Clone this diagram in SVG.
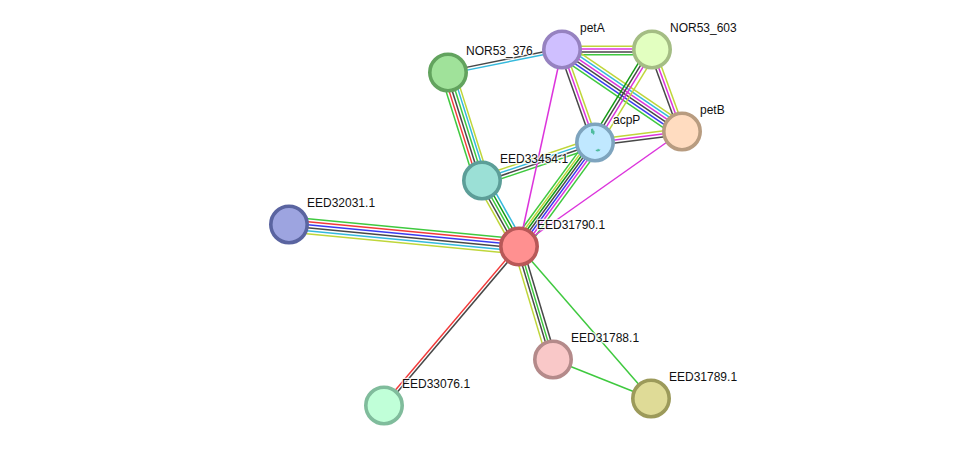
<svg xmlns="http://www.w3.org/2000/svg" width="975" height="451" viewBox="0 0 975 451">
<style>
text{font-family:"Liberation Sans",Arial,sans-serif;font-size:12px;fill:#111;stroke:#fff;stroke-width:2.5px;stroke-opacity:.75;paint-order:stroke;stroke-linejoin:round}
#connectors line{stroke-width:1.5;fill:none}
.g{stroke:#3fc93f}.d{stroke:#159a15}.r{stroke:#f23a3a}.b{stroke:#3a3af0}.k{stroke:#484848}.c{stroke:#35b9dc}.y{stroke:#bfd63a}.m{stroke:#dc34dc}
.n{stroke-width:3.6}
.blob{fill:#4fbc9e;stroke:none}
</style>
<rect width="975" height="451" fill="#fff"/>
<g id="connectors" transform="translate(0,.5)">
<!-- each bundle runs along local x, strands spread along local y -->
<g transform="translate(289,224) rotate(5.46)">
<line class="g" x2="231" y1="-7.5" y2="-7.5"/><line class="r" x2="231" y1="-4.5" y2="-4.5"/><line class="b" x2="231" y1="-1.500" y2="-1.500"/><line class="k" x2="231" y1="1.500" y2="1.500"/><line class="c" x2="231" y1="4.5" y2="4.5"/><line class="y" x2="231" y1="7.5" y2="7.5"/>
</g>
<g transform="translate(448,72) rotate(-11.4)">
<line class="k" x2="116" y1="-1.4" y2="-1.4"/><line class="c" x2="116" y1="1.4" y2="1.4"/>
</g>
<g transform="translate(448,72) rotate(72.5)">
<line class="g" x2="113" y1="7.5" y2="7.5"/><line class="r" x2="113" y1="4.5" y2="4.5"/><line class="k" x2="113" y1="1.500" y2="1.500"/><line class="g" x2="113" y1="-1.500" y2="-1.500"/><line class="c" x2="113" y1="-4.5" y2="-4.5"/><line class="y" x2="113" y1="-7" y2="-7"/>
</g>
<g transform="translate(482,180) rotate(60.7)">
<line class="y" x2="76" y1="6" y2="6"/><line class="k" x2="76" y1="3" y2="3"/><line class="g" x2="76" y1="0" y2="0"/><line class="d" x2="76" y1="-3" y2="-3"/><line class="c" x2="76" y1="-6" y2="-6"/>
</g>
<g transform="translate(482,180) rotate(-18.6)">
<line class="y" x2="119" y1="-4.5" y2="-4.5"/><line class="c" x2="119" y1="-1.500" y2="-1.500"/><line class="k" x2="119" y1="1.500" y2="1.500"/><line class="g" x2="119" y1="4.5" y2="4.5"/>
</g>
<g transform="translate(519,246) rotate(-53.8)">
<line class="g" x2="129" y1="-8" y2="-8"/><line class="y" x2="129" y1="-5.500" y2="-5.500"/><line class="d" x2="129" y1="-3.300" y2="-3.300"/><line class="k" x2="129" y1="-.8" y2="-.8"/><line class="b" x2="129" y1="1.600" y2="1.600"/><line class="m" x2="129" y1="4.2" y2="4.2"/><line class="g" x2="129" y1="7.2" y2="7.2"/>
</g>
<g transform="translate(562,49) rotate(70.5)">
<line class="k" x2="99" y1="3" y2="3"/><line class="m" x2="99" y1="0" y2="0"/><line class="y" x2="99" y1="-3" y2="-3"/>
</g>
<g transform="translate(562,50)">
<line class="y" x2="90" y1="-4.2" y2="-4.2"/><line class="m" x2="90" y1="-1.4" y2="-1.4"/><line class="k" x2="90" y1="1.4" y2="1.4"/><line class="g" x2="90" y1="4.2" y2="4.2"/>
</g>
<g transform="translate(562,49) rotate(34.3)">
<line class="y" x2="145" y1="-7.5" y2="-7.5"/><line class="c" x2="145" y1="-4.5" y2="-4.5"/><line class="m" x2="145" y1="-1.500" y2="-1.500"/><line class="k" x2="145" y1="1.500" y2="1.500"/><line class="b" x2="145" y1="4.5" y2="4.5"/><line class="g" x2="145" y1="7.5" y2="7.5"/>
</g>
<g transform="translate(595,142) rotate(-58.5)">
<line class="d" x2="109" y1="-4.5" y2="-4.5"/><line class="k" x2="109" y1="-1.500" y2="-1.500"/><line class="m" x2="109" y1="1.500" y2="1.500"/><line class="y" x2="109" y1="5.5" y2="5.5"/>
</g>
<g transform="translate(652,49) rotate(69.9)">
<line class="k" x2="87" y1="3" y2="3"/><line class="m" x2="87" y1="0" y2="0"/><line class="y" x2="87" y1="-3" y2="-3"/>
</g>
<g transform="translate(595,142) rotate(-7.2)">
<line class="y" x2="88" y1="-3" y2="-3"/><line class="m" x2="88" y1="0" y2="0"/><line class="k" x2="88" y1="3" y2="3"/>
</g>
<g transform="translate(519,246) rotate(73.3)">
<line class="y" x2="118" y1="5.6" y2="5.6"/><line class="k" x2="118" y1="2.2" y2="2.2"/><line class="g" x2="118" y1="-.4" y2="-.4"/><line class="k" x2="118" y1="-3.4" y2="-3.4"/>
</g>
<g transform="translate(519,246) rotate(130.3)">
<line class="r" x2="208" y1="1.4" y2="1.4"/><line class="k" x2="208" y1="-1.4" y2="-1.4"/>
</g>
<line class="m" x1="519" y1="246" x2="562" y2="49"/>
<line class="m" x1="519" y1="246" x2="682" y2="131"/>
<line class="g" x1="519" y1="246" x2="651" y2="398"/>
<line class="g" x1="553" y1="359" x2="651" y2="398"/>
</g>
<g id="EED32031.1"><circle class="n" cx="289" cy="224.500" r="18.2" fill="#9da4e0" stroke="#5a64a0"/><text x="307" y="207">EED32031.1</text></g>
<g id="NOR53_376"><circle class="n" cx="448" cy="72.500" r="18.2" fill="#a0e29a" stroke="#62a35e"/><text x="466" y="55">NOR53_376</text></g>
<g id="petA"><circle class="n" cx="562" cy="49.500" r="18.2" fill="#cfbfff" stroke="#9682c0"/><text x="580" y="32">petA</text></g>
<g id="NOR53_603"><circle class="n" cx="652" cy="49.500" r="18.2" fill="#e2ffc0" stroke="#a4bd84"/><text x="670" y="32">NOR53_603</text></g>
<g id="petB"><circle class="n" cx="682" cy="131.500" r="18.2" fill="#ffdcc0" stroke="#b89c80"/><text x="700" y="114">petB</text></g>
<g id="acpP"><circle class="n" cx="595" cy="142.500" r="18.2" fill="#c0e8ff" stroke="#7ea4be"/>
<path class="blob" d="M591 129l2-.5 .5 2 1 .5 0 2.500-1 1.500-1-1.500-1.500-.5z"/><path class="blob" d="M595.500 150l2-.5 .5-1 1 1 1.500 0-1 1.500-2 .5-1.500-.5z"/>
<text x="613" y="124">acpP</text></g>
<g id="EED33454.1"><circle class="n" cx="482" cy="180.500" r="18.2" fill="#9be0d6" stroke="#5c9e98"/><text x="500" y="163">EED33454.1</text></g>
<g id="EED31790.1"><circle class="n" cx="519" cy="246.500" r="18.2" fill="#ff9090" stroke="#b85858"/><text x="537" y="229">EED31790.1</text></g>
<g id="EED31788.1"><circle class="n" cx="553" cy="359.500" r="18.2" fill="#f9c8c8" stroke="#b48a8a"/><text x="571" y="342">EED31788.1</text></g>
<g id="EED31789.1"><circle class="n" cx="651" cy="398.500" r="18.2" fill="#dfdb97" stroke="#9c9a5a"/><text x="669" y="381">EED31789.1</text></g>
<g id="EED33076.1"><circle class="n" cx="384" cy="405.500" r="18.2" fill="#c0ffd8" stroke="#80bc9c"/><text x="402" y="388">EED33076.1</text></g>
</svg>
